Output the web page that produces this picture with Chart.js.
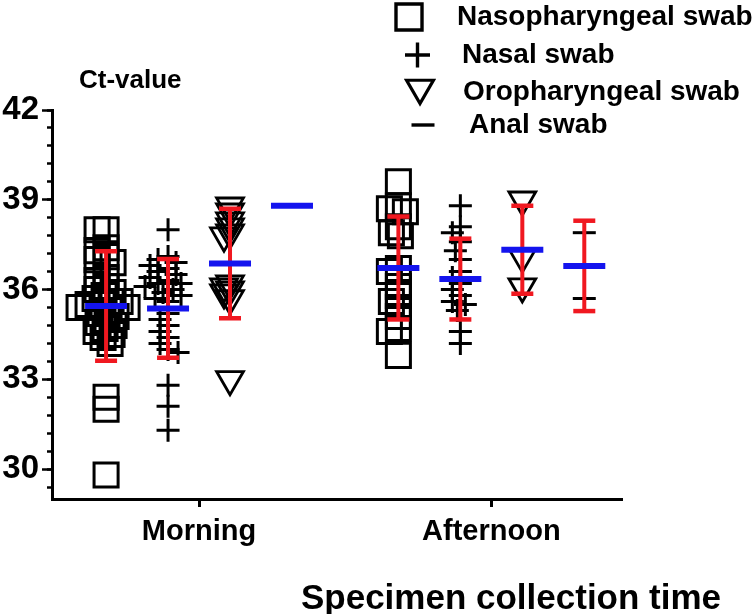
<!DOCTYPE html>
<html>
<head>
<meta charset="utf-8">
<script src="https://cdn.jsdelivr.net/npm/chart.js@4.4.1/dist/chart.umd.min.js"></script>
<style>
html,body{margin:0;padding:0;background:#fff;}
canvas{display:block;}
</style>
</head>
<body>
<canvas id="c" width="754" height="614"></canvas>
<script>
// ---------------- data ----------------
const times = ['Morning', 'Afternoon'];
const swabTypes = ['Nasopharyngeal swab', 'Nasal swab', 'Oropharyngeal swab', 'Anal swab'];
const yTickLabels = [30, 33, 36, 39, 42];
const yAxisTitle = 'Ct-value';
const xAxisTitle = 'Specimen collection time';

const nasopharyngealMorning = [38.0, 38.0, 37.4, 37.3, 37.1, 37.0, 36.9, 36.4, 36.3, 36.1, 36.0, 35.9, 35.8, 35.7, 35.6, 35.6, 35.5, 35.5, 35.4, 35.4, 35.3, 35.2, 35.1, 35.0, 34.9, 34.8, 34.7, 34.6, 34.5, 34.4, 34.2, 32.4, 32.0, 29.8];
const nasalMorning = [38.0, 37.1, 37.0, 36.9, 36.8, 36.7, 36.6, 36.5, 36.4, 36.3, 36.2, 36.2, 36.1, 36.0, 35.9, 35.8, 35.7, 35.6, 35.2, 35.0, 34.8, 34.6, 34.4, 34.2, 34.0, 33.9, 32.8, 32.1, 31.3];
const oropharyngealMorning = [38.8, 38.6, 38.3, 38.1, 37.9, 37.8, 36.2, 36.1, 36.0, 35.9, 35.7, 33.0];
const analMorning = [38.8];

const nasopharyngealAfternoon = [39.6, 38.8, 38.7, 38.6, 38.1, 37.9, 37.8, 36.7, 36.6, 36.1, 35.8, 35.6, 35.4, 35.1, 34.7, 34.6, 33.8];
const nasalAfternoon = [38.8, 38.1, 37.9, 37.6, 37.3, 37.0, 36.6, 36.4, 36.2, 36.0, 35.8, 35.6, 35.5, 35.3, 34.6, 34.2];
const oropharyngealAfternoon = [39.0, 37.1, 36.1];
const analAfternoon = [37.9, 35.7];

// mean and SD per swab type (order of swabTypes)
const meanMorning = [35.45, 35.37, 36.87, 38.8];
const sdMorning = [1.83, 1.65, 1.83, null];
const meanAfternoon = [36.72, 36.35, 37.33, 36.79];
const sdAfternoon = [1.72, 1.35, 1.47, 1.51];

// ---------------- layout / style ----------------
const FONT = '"Liberation Sans", Arial, Helvetica, sans-serif';
const RED = '#f01820';
const BLUE = '#1414ee';
const GROUP_STEP = 0.212;          // spacing of the four swab columns inside a time group
const PX_PER_X = 292.3, PX_PER_Y = 30; // approximate scale ratios, used only for the spreading of dots

const swabStyles = [
  { pointStyle: 'rect', radius: 17, rotation: 0, borderWidth: 3, spread: 9 },
  { pointStyle: 'cross', radius: 11.5, rotation: 0, borderWidth: 3, spread: 10 },
  { pointStyle: 'triangle', radius: 15.5, rotation: 180, borderWidth: 2.8, spread: 6 },
  { pointStyle: 'line', radius: 11.5, rotation: 0, borderWidth: 3, spread: 8 }
];

// horizontal spreading of dots with close values (scatter dot plot)
function swarmOffsets(vals, minDist) {
  const placed = [];
  const offs = new Array(vals.length).fill(0);
  const order = vals.map((v, i) => i).sort((a, b) => vals[b] - vals[a]);
  for (const i of order) {
    const py = vals[i] * PX_PER_Y;
    let chosen = 0;
    for (let k = 0; k < 400; k++) {
      const cand = (k % 2 === 1 ? -1 : 1) * Math.ceil(k / 2);
      let ok = true;
      for (const p of placed) {
        const dx = cand - p.x, dy = py - p.y;
        if (dx * dx + dy * dy < minDist * minDist) { ok = false; break; }
      }
      if (ok) { chosen = cand; break; }
    }
    placed.push({ x: chosen, y: py });
    offs[i] = chosen / PX_PER_X;
  }
  return offs;
}
function groupX(cat, g) { return cat + (g - 1.5) * GROUP_STEP; }
function groupPoints(vals, cat, g) {
  const offs = swarmOffsets(vals, swabStyles[g].spread);
  return vals.map((v, i) => ({ x: groupX(cat, g) + offs[i], y: v }));
}

const seriesByType = [
  [nasopharyngealMorning, nasopharyngealAfternoon],
  [nasalMorning, nasalAfternoon],
  [oropharyngealMorning, oropharyngealAfternoon],
  [analMorning, analAfternoon]
];

const meanPoints = [];
const errPoints = [];
[[meanMorning, sdMorning], [meanAfternoon, sdAfternoon]].forEach(([means, sds], cat) => {
  means.forEach((m, g) => {
    const x = groupX(cat, g);
    meanPoints.push({ x, y: m });
    if (sds[g] != null) {
      errPoints.push({ x, y: m - sds[g] }, { x, y: m + sds[g] }, { x, y: null });
    }
  });
});

const minorTicks = [];
for (let k = 0; k <= 21; k++) minorTicks.push(Math.round((42 - 0.6 * k) * 10) / 10);

const swabDatasets = swabTypes.map((name, g) => ({
  label: name,
  data: [...groupPoints(seriesByType[g][0], 0, g), ...groupPoints(seriesByType[g][1], 1, g)],
  pointStyle: swabStyles[g].pointStyle,
  pointRadius: swabStyles[g].radius,
  pointRotation: swabStyles[g].rotation,
  pointBorderWidth: swabStyles[g].borderWidth,
  pointBorderColor: '#000',
  pointBackgroundColor: 'rgba(0,0,0,0)',
  showLine: false
}));

const decor = {
  id: 'decor',
  afterDraw(chart) {
    const ctx = chart.ctx;
    ctx.save();
    ctx.fillStyle = '#000';
    ctx.textBaseline = 'middle';
    ctx.textAlign = 'left';
    ctx.font = 'bold 26px ' + FONT;
    ctx.fillText(yAxisTitle, 79, 81);
    ctx.textAlign = 'center';
    ctx.font = 'bold 35px ' + FONT;
    ctx.fillText(xAxisTitle, 511, 599);
    // legend
    const rows = [
      { m: [409, 17], t: [457, 17], r: 18.4 },
      { m: [417.5, 55], t: [462, 55], r: 12.5 },
      { m: [420, 88], t: [463, 92], r: 15.5 },
      { m: [423, 125], t: [469, 125], r: 11.5 }
    ];
    ctx.font = 'bold 28px ' + FONT;
    ctx.textAlign = 'left';
    rows.forEach((row, g) => {
      const st = swabStyles[g];
      ctx.save();
      ctx.strokeStyle = '#000';
      ctx.fillStyle = 'rgba(0,0,0,0)';
      ctx.lineWidth = st.borderWidth + 0.4;
      Chart.helpers.drawPoint(ctx, { pointStyle: st.pointStyle, radius: row.r, rotation: st.rotation, borderWidth: st.borderWidth }, row.m[0], row.m[1]);
      ctx.restore();
      ctx.fillText(swabTypes[g], row.t[0], row.t[1]);
    });
    ctx.restore();
  }
};

Chart.defaults.font.family = FONT;
Chart.defaults.color = '#000';

new Chart(document.getElementById('c'), {
  type: 'scatter',
  data: {
    datasets: [
      {
        label: 'Mean',
        data: meanPoints,
        pointStyle: 'line', pointRadius: 21, pointBorderWidth: 6,
        pointBorderColor: BLUE, pointBackgroundColor: BLUE, showLine: false
      },
      {
        label: 'SD',
        data: errPoints,
        showLine: true, spanGaps: false,
        borderColor: RED, borderWidth: 4,
        pointStyle: 'line', pointRadius: 11, pointBorderWidth: 4.5,
        pointBorderColor: RED, pointBackgroundColor: RED
      },
      ...swabDatasets
    ]
  },
  options: {
    responsive: false,
    animation: false,
    events: [],
    layout: { padding: { top: 110, right: 132, left: 0, bottom: 0 } },
    plugins: { legend: { display: false }, tooltip: { enabled: false } },
    scales: {
      x: {
        type: 'linear', position: 'bottom', min: -0.503, max: 1.447,
        afterBuildTicks: s => { s.ticks = times.map((t, i) => ({ value: i })); },
        afterFit: s => { s.height = 115; },
        ticks: { callback: (v, i) => times[i], font: { size: 29, weight: 'bold' }, color: '#000', padding: 8, maxRotation: 0, autoSkip: false },
        grid: { display: true, drawOnChartArea: false, drawTicks: true, tickLength: 8, tickWidth: 3, tickColor: '#000' },
        border: { display: true, color: '#000', width: 3 }
      },
      y: {
        type: 'linear', position: 'left', weight: 1, min: 29, max: 42,
        afterBuildTicks: s => { s.ticks = yTickLabels.map(v => ({ value: v })); },
        afterFit: s => { s.width = 52; },
        ticks: { font: { size: 33, weight: 'bold' }, color: '#000', padding: 3, callback: v => String(v) },
        grid: { drawOnChartArea: false, drawTicks: true, tickLength: 10, tickWidth: 2.5, tickColor: '#000' },
        border: { display: true, color: '#000', width: 3 }
      },
      yMinor: {
        type: 'linear', position: 'left', weight: 0, min: 29, max: 42,
        afterBuildTicks: s => { s.ticks = minorTicks.map(v => ({ value: v })); },
        afterFit: s => { s.width = 0; },
        ticks: { display: false },
        grid: { drawOnChartArea: false, drawTicks: true, tickLength: 5, tickWidth: 2.5, tickColor: '#000' },
        border: { display: false }
      }
    }
  },
  plugins: [decor]
});
</script>
</body>
</html>
